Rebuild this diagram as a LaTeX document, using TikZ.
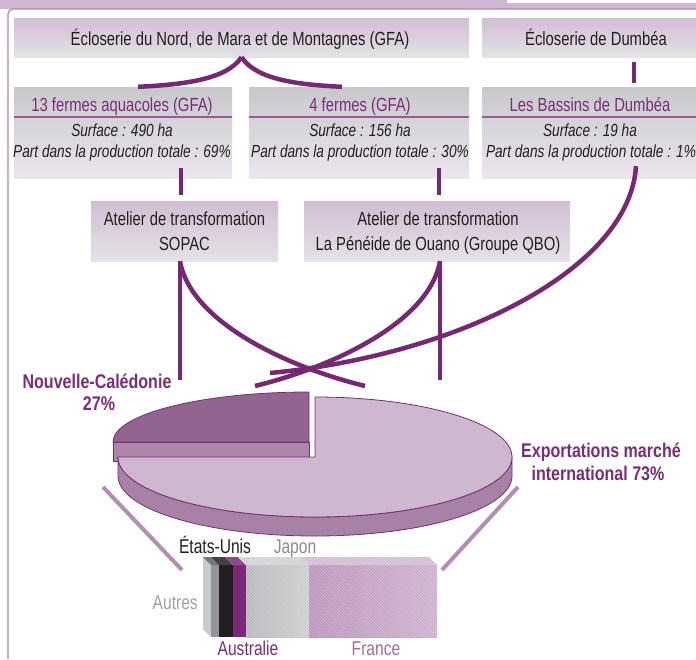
\documentclass[tikz,border=0pt]{standalone}
\usepackage{fontspec}
\newfontfamily\fc[FakeStretch=0.78]{Liberation Sans}
\newfontfamily\fcb[FakeStretch=0.81]{Liberation Sans}
\usetikzlibrary{calc}
\definecolor{cpurple}{RGB}{118,40,114}
\definecolor{ctext}{RGB}{35,31,32}
\definecolor{ctitle}{RGB}{123,45,120}
\definecolor{bandc}{RGB}{207,182,209}
\definecolor{framec}{RGB}{178,135,178}
\definecolor{rowAtop}{RGB}{210,190,212}
\definecolor{rowAbot}{RGB}{227,226,230}
\definecolor{rowBtop}{RGB}{200,200,204}
\definecolor{rowBbot}{RGB}{236,229,238}
\definecolor{ulinec}{RGB}{150,90,148}
\definecolor{pielight}{RGB}{205,184,207}
\definecolor{piedark}{RGB}{147,100,143}
\definecolor{pieside}{RGB}{168,130,166}
\definecolor{piecut}{RGB}{172,135,170}
\definecolor{pieedge}{RGB}{120,45,116}
\definecolor{legline}{RGB}{178,143,178}
\definecolor{gAutSide}{RGB}{200,201,203}
\definecolor{gAut}{RGB}{148,149,152}
\definecolor{gUS}{RGB}{35,31,32}
\definecolor{gAus}{RGB}{123,42,120}
\definecolor{gJap1}{RGB}{184,185,188}
\definecolor{gJap2}{RGB}{204,205,207}
\definecolor{gFr1}{RGB}{188,148,188}
\definecolor{gFr2}{RGB}{228,214,228}
\definecolor{gFr3}{RGB}{205,178,205}
\definecolor{cJapon}{RGB}{140,140,143}
\definecolor{cAutres}{RGB}{160,161,164}
\definecolor{cFrance}{RGB}{160,110,160}
\begin{document}
\begin{tikzpicture}[x=1pt,y=-1pt,
  conn/.style={draw=cpurple,line width=4.5pt},
  rowa/.style={rectangle,inner sep=0pt,top color=rowAtop,bottom color=rowAbot},
  rowb/.style={rectangle,inner sep=0pt,top color=rowBtop,bottom color=rowBbot},
  txt/.style={inner sep=0pt,anchor=base,text=ctext,font=\fc\fontsize{19}{24}\selectfont},
  ttl/.style={inner sep=0pt,anchor=base,text=ctitle,font=\fc\fontsize{19}{24}\selectfont},
  itl/.style={inner sep=0pt,anchor=base,text=ctext,font=\fc\itshape\fontsize{17.5}{21}\selectfont},
  bld/.style={inner sep=0pt,anchor=base,text=ctitle,font=\fcb\bfseries\fontsize{19.8}{22}\selectfont},
  lbl/.style={inner sep=0pt,anchor=base,font=\fc\fontsize{20}{24}\selectfont},
  uline/.style={draw=ulinec,line width=1.4pt},
  pieface/.style={draw=pieedge,line width=0.8pt},
  leg/.style={draw=legline,line width=4pt}
  ]
\useasboundingbox (0,0) rectangle (696,659);
\fill[white] (0,0) rectangle (696,659);
% frame
\fill[bandc] (0,0) rectangle (696,9);
\fill[white] (507,0) rectangle (696,3);
\draw[framec,line width=1.3pt,rounded corners=5pt] (8,659) -- (8,9) -- (696,9);

% row 1
\node[rowa,minimum width=455pt,minimum height=39pt] (A) at (241.5,37.5) {};
\node[rowa,minimum width=228pt,minimum height=39pt] (B) at (596,37.5) {};
\node[txt] (tA) at (240,45) {Écloserie du Nord, de Mara et de Montagnes (GFA)};
\node[txt] (tB) at (596,45) {Écloserie de Dumbéa};

% row 2
\node[rowb,minimum width=218pt,minimum height=91pt] (C) at (123,132.5) {};
\node[rowb,minimum width=220pt,minimum height=91pt] (D) at (359,132.5) {};
\node[rowb,minimum width=228pt,minimum height=91pt] (E) at (596,132.5) {};
\draw[uline] ($(C.north west)+(0,30)$) -- ($(C.north east)+(0,30)$);
\draw[uline] ($(D.north west)+(0,30)$) -- ($(D.north east)+(0,30)$);
\draw[uline] ($(E.north west)+(0,30)$) -- ($(E.north east)+(0,30)$);
\node[ttl] (tC) at (122,111) {13 fermes aquacoles (GFA)};
\node[ttl] (tD) at (360,111) {4 fermes (GFA)};
\node[ttl] (tE) at (590,111) {Les Bassins de Dumbéa};
\node[itl] (sC) at (122,136) {Surface : 490 ha};
\node[itl] (sD) at (360,136) {Surface : 156 ha};
\node[itl] (sE) at (590,136) {Surface : 19 ha};
\node[itl] (pC) at (122,157) {Part dans la production totale : 69\%};
\node[itl] (pD) at (360,157) {Part dans la production totale : 30\%};
\node[itl] (pE) at (591,157) {Part dans la production totale : 1\%};

% row 3
\node[rowa,minimum width=187pt,minimum height=60pt] (F) at (184.5,231) {};
\node[rowa,minimum width=266pt,minimum height=60pt] (G) at (437,231) {};
\node[txt] (tF1) at (184.5,225) {Atelier de transformation};
\node[txt] (tF2) at (184.5,250) {SOPAC};
\node[txt] (tG1) at (438,225) {Atelier de transformation};
\node[txt] (tG2) at (438,250) {La Pénéide de Ouano (Groupe QBO)};

% connectors
\draw[conn] (A.south) .. controls +(-15,23) and +(42,-2) .. ($(C.north)+(15,0)$);
\draw[conn] (A.south) .. controls +(15,23) and +(-42,-2) .. ($(D.north)+(-17,0)$);
\draw[conn] ($(B.south)+(38,5)$) -- ($(E.north)+(38,-4)$);
\draw[conn] ($(C.south)+(58,-10)$) -- ($(F.north)+(-3.5,-6)$);
\draw[conn] ($(D.south)+(80,-10)$) -- ($(G.north)+(2,-6)$);

\coordinate (nc1) at (180,380);
\coordinate (nc2) at (440,380);
\coordinate (ex1) at (365,386);
\coordinate (ex2) at (255,386);
\coordinate (ex3) at (270,373);
\draw[conn] ($(F.south)+(-4.5,0)$) -- (nc1);
\draw[conn] ($(G.south)+(3,0)$) -- (nc2);
\draw[conn] ($(F.south)+(-4.5,0)$) .. controls +(10,58) and +(-85,-21) .. (ex1);
\draw[conn] ($(G.south)+(3,0)$) .. controls +(-10,58) and +(85,-21) .. (ex2);
\draw[conn] ($(E.south)+(40,-12)$) .. controls +(-6,102) and +(190,-18) .. (ex3);

% pie
\fill[pieface,fill=piecut] (113,442) -- (309,442) -- (309,461) -- (113,461) -- cycle;
\filldraw[pieface,fill=piedark] (309,442) -- (113,442) arc[start angle=180,end angle=270,x radius=196,y radius=50] -- cycle;
\filldraw[pieface,fill=pieside] (512,457) arc[start angle=0,end angle=180,x radius=197,y radius=60] -- (118,476) arc[start angle=180,end angle=0,x radius=197,y radius=60] -- cycle;
\filldraw[pieface,fill=pielight] (315,457) -- (315,397) arc[start angle=-90,end angle=180,x radius=197,y radius=60] -- cycle;

\node[bld] (nc) at (97,388) {Nouvelle-Calédonie};
\node[bld] (ncp) at (99,410) {27\%};
\node[bld] (exa) at (601,457) {Exportations marché};
\node[bld] (exb) at (598,480) {international 73\%};

% legend lines
\coordinate (l1a) at (103,487);
\coordinate (l1b) at (182,570);
\coordinate (l2a) at (518,487);
\coordinate (l2b) at (442,570);
\draw[leg] (l1a) -- (l1b);
\draw[leg] (l2a) -- (l2b);

% stacked bar
\fill[gAutSide] (203,557) -- (211,565) -- (211,637) -- (203,629) -- cycle;
\fill[gAut] (211,565) rectangle (219,637);
\fill[gAut!80!black] (203,557) -- (211,565) -- (219,565) -- (211,557) -- cycle;
\fill[gUS] (219,565) rectangle (233,637);
\fill[gUS!85!white] (211,557) -- (219,565) -- (233,565) -- (225,557) -- cycle;
\fill[gAus] (233,565) rectangle (246,637);
\fill[gAus!85!white] (225,557) -- (233,565) -- (246,565) -- (238,557) -- cycle;
\fill[left color=gJap1,right color=gJap2] (246,565) rectangle (309,637);
\fill[gJap2!90!white] (238,557) -- (246,565) -- (309,565) -- (301,557) -- cycle;
\fill[left color=gFr1,middle color=gFr2,right color=gFr3] (309,565) rectangle (437,637);
\fill[gFr3!85!white] (301,557) -- (309,565) -- (437,565) -- (429,557) -- cycle;
\begin{scope}
\clip (238,557) -- (429,557) -- (437,565) -- (437,637) -- (246,637) -- (246,565) -- cycle;
\foreach \i in {0,3,...,300} {\draw[white,opacity=0.3,line width=0.4pt] (140+\i,550) -- ++(95,95);}
\end{scope}

\node[lbl,text=ctext] (us) at (215,553) {États-Unis};
\node[lbl,text=cJapon] (jp) at (295,553) {Japon};
\node[lbl,text=cAutres,anchor=base east] (au) at (198,609) {Autres};
\node[lbl,text=ctitle] (aus) at (248,655) {Australie};
\node[lbl,text=cFrance] (fr) at (376,655) {France};
\end{tikzpicture}
\end{document}
